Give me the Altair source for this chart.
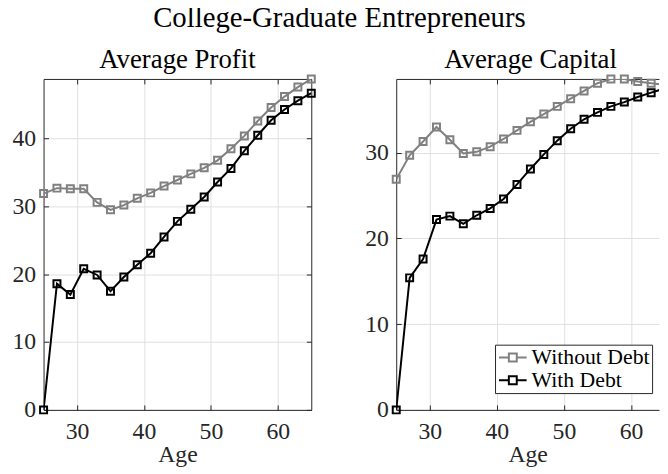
import altair as alt
import pandas as pd

ages = [25, 27, 29, 31, 33, 35, 37, 39, 41, 43, 45, 47, 49, 51, 53, 55, 57, 59, 61, 63, 65]
profit_without = [31.9, 32.7, 32.6, 32.6, 30.6, 29.5, 30.2, 31.2, 32.0, 33.0, 33.9,
                  34.8, 35.7, 36.8, 38.5, 40.4, 42.6, 44.6, 46.2, 47.6, 48.8]
profit_with = [0.0, 18.6, 17.0, 20.8, 19.9, 17.5, 19.6, 21.4, 23.1, 25.5, 27.8,
               29.6, 31.4, 33.6, 35.6, 38.2, 40.5, 42.7, 44.3, 45.6, 46.7]
capital_without = [26.9, 29.7, 31.3, 33.0, 31.5, 29.9, 30.1, 30.7, 31.6, 32.6, 33.6,
                   34.5, 35.4, 36.3, 37.2, 38.1, 38.6, 38.6, 38.3, 38.1, 37.9]
capital_with = [0.0, 15.4, 17.6, 22.2, 22.6, 21.7, 22.7, 23.5, 24.6, 26.3, 28.1,
                29.8, 31.4, 32.8, 33.9, 34.7, 35.4, 35.9, 36.5, 37.0, 37.5]

series_names = ["Without Debt", "With Debt"]
series_colors = ["#808080", "#000000"]
x_ticks = [30, 40, 50, 60]
profit_ticks = [0, 10, 20, 30, 40]
capital_ticks = [0, 10, 20, 30]

FONT = "Liberation Serif"
AX = "#262626"
GRID = "#dfdfdf"
LEGEND_PATH = "M-1.75,0H-0.5M0.5,0H1.75M-0.5,-0.5H0.5V0.5H-0.5Z"


def long_df(without, withd):
    return pd.DataFrame({
        "Age": ages + ages,
        "value": without + withd,
        "series": [series_names[0]] * len(ages) + [series_names[1]] * len(ages),
    })


def panel(df, xmax, ymax, yticks, width, title, title_dx, legend, right_side):
    xs = alt.Scale(domain=[25, xmax], nice=False, zero=False)
    ys = alt.Scale(domain=[0, ymax], nice=False, zero=False)
    lab = dict(labelFont=FONT, labelFontSize=24, labelColor=AX)
    ext = dict(minExtent=0, maxExtent=200)
    x_main = alt.Axis(orient="bottom", values=x_ticks, title="Age", offset=-5, tickSize=5,
                      tickColor=AX, tickWidth=1, domain=False, grid=True, gridColor=GRID,
                      gridWidth=1, labelPadding=10, titlePadding=-1, titleFont=FONT,
                      titleFontSize=24, titleColor=AX, titleFontWeight="normal", **lab)
    y_main = alt.Axis(orient="left", values=yticks, title=None, offset=-5, tickSize=5,
                      tickColor=AX, tickWidth=1, domain=False, grid=True, gridColor=GRID,
                      gridWidth=1, labelPadding=8, **lab)
    x_top_ticks = alt.Axis(orient="top", values=x_ticks, title=None, labels=False, offset=-5,
                           tickSize=5, tickColor=AX, tickWidth=1, domain=False, grid=False,
                           **ext)
    y_right_ticks = alt.Axis(orient="right", values=yticks, title=None, labels=False, offset=-5,
                             tickSize=5, tickColor=AX, tickWidth=1, domain=False, grid=False,
                             **ext)
    x_bot_dom = alt.Axis(orient="bottom", title=None, labels=False, ticks=False, grid=False,
                         domain=True, domainColor=AX, domainWidth=1, **ext)
    y_left_dom = alt.Axis(orient="left", title=None, labels=False, ticks=False, grid=False,
                          domain=True, domainColor=AX, domainWidth=1, **ext)
    x_top_dom = alt.Axis(orient="top", title=None, labels=False, ticks=False, grid=False,
                         domain=True, domainColor=AX, domainWidth=1, **ext)
    y_right_dom = alt.Axis(orient="right", title=None, labels=False, ticks=False, grid=False,
                           domain=True, domainColor=AX, domainWidth=1, **ext)

    color = alt.Color("series:N", scale=alt.Scale(domain=series_names, range=series_colors),
                      legend=legend)
    base = alt.Chart(df)
    gray = base.transform_filter(alt.datum.series == series_names[0])
    black = base.transform_filter(alt.datum.series == series_names[1])
    vis = alt.datum.Age <= xmax

    def y_enc(axis):
        if axis is None:
            return alt.Y("value:Q", scale=ys, axis=None)
        return alt.Y("value:Q", scale=ys, axis=axis)

    l1 = gray.mark_line(strokeWidth=2, clip=True).encode(
        x=alt.X("Age:Q", scale=xs, axis=x_main), y=y_enc(y_main), color=color)
    l2 = gray.transform_filter(vis).mark_point(shape="square", filled=False, size=50,
                                               strokeWidth=2, opacity=1).encode(
        x=alt.X("Age:Q", scale=xs, axis=x_top_ticks),
        y=y_enc(y_right_ticks if right_side else None), color=color)
    l3 = black.mark_line(strokeWidth=2, clip=True).encode(
        x=alt.X("Age:Q", scale=xs, axis=x_bot_dom), y=y_enc(y_left_dom), color=color)
    l4 = black.transform_filter(vis).mark_point(shape="square", filled=False, size=50,
                                                strokeWidth=2, opacity=1).encode(
        x=alt.X("Age:Q", scale=xs, axis=x_top_dom),
        y=y_enc(y_right_dom if right_side else None), color=color)
    return alt.layer(l1, l2, l3, l4).resolve_axis(x="independent", y="independent").properties(
        width=width, height=335,
        title=alt.Title(title, font=FONT, fontSize=27.1, fontWeight="normal", color="black",
                        anchor="middle", offset=-23.5, baseline="alphabetic", dx=title_dx))


legend = alt.Legend(title=None, orient="none", legendX=100, legendY=269,
                    symbolType=LEGEND_PATH, symbolSize=256, symbolStrokeWidth=2,
                    labelFont=FONT, labelFontSize=22, labelColor="black",
                    fillColor="white", strokeColor=AX, padding=2, rowPadding=1,
                    symbolOffset=5, labelOffset=8)

left = panel(long_df(profit_without, profit_with), 65, 48.8, profit_ticks, 271,
             "Average Profit", 0, None, True)
right = panel(long_df(capital_without, capital_with), 64.17, 38.6, capital_ticks, 266,
              "Average Capital", 3, legend, False)

chart = alt.hconcat(left, right, spacing=86, bounds="flush").resolve_scale(
    color="independent").resolve_legend(color="independent").properties(
    title=alt.Title("College-Graduate Entrepreneurs", font=FONT, fontSize=29.1,
                    fontWeight="normal", color="black", anchor="middle", dx=4,
                    offset=-10, baseline="alphabetic"),
    padding={"left": 3, "top": -7, "right": 0, "bottom": -2},
).configure_view(stroke="transparent")

chart.save("out.html", embed_options={"renderer": "svg", "actions": False})
